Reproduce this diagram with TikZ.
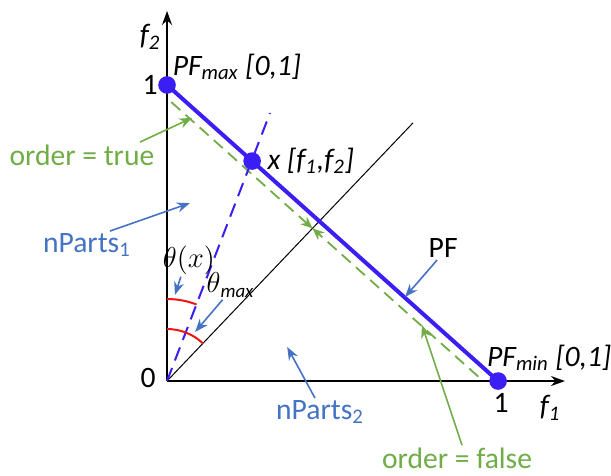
\documentclass[tikz,border=0pt]{standalone}
\usepackage{fontspec}
\setmainfont{Carlito}
\definecolor{pfblue}{RGB}{58, 30, 245}
\definecolor{labelblue}{RGB}{68, 114, 196}
\definecolor{ordergreen}{RGB}{112, 173, 71}
\definecolor{arcred}{RGB}{240, 20, 20}
\usetikzlibrary{arrows.meta, positioning, calc}

\begin{document}
\begin{tikzpicture}[x=165.5pt, y=148pt,
      font=\fontsize{14.8}{17}\selectfont,
      lbl/.style={inner sep=1pt},
      dot/.style={circle, fill=pfblue, inner sep=0pt, minimum size=8.8pt},
      axis/.style={-{Stealth[length=7pt, width=5pt]}, black, line width=1pt},
      bluearr/.style={-{Stealth[length=6.5pt, width=5pt]}, labelblue, line width=0.8pt},
      greenarr/.style={-{Stealth[length=6.5pt, width=5pt]}, ordergreen, line width=0.8pt},
      greendash/.style={ordergreen, line width=0.9pt, dash pattern=on 6pt off 3.5pt},
      thetafont/.style={font=\fontsize{13.5}{15}\selectfont}
    ]
      \useasboundingbox (-0.5045,-0.3176) rectangle (1.341,1.287);
      \coordinate (O) at (0,0);
      \coordinate (xend) at (1.202,0);
      \coordinate (yend) at (0,1.25);
      \coordinate (diagend) at (0.743,0.872);
      \coordinate (dashend) at (0.311,0.905);
      \coordinate (gstart) at (0.013,0.942);
      \coordinate (gend) at (0.94,0.015);
      \coordinate (gmid) at (0.4394,0.5156);

      \draw[axis] (O) -- (xend);
      \draw[axis] (O) -- (yend);
      \draw[black, line width=0.5pt] (O) -- (diagend);

      \draw[greendash, -{Stealth[length=6pt, width=5pt]}] (gstart) -- (gmid);
      \draw[greendash, -{Stealth[length=6pt, width=5pt]}] (gend) -- (gmid);

      \node[dot] (pfmax) at (0,1) {};
      \node[dot] (pfmin) at (1,0) {};
      \node[dot] (ptx) at (0.257,0.743) {};
      \draw[pfblue, line width=2pt] (pfmax.center) -- (pfmin.center);
      \draw[pfblue, line width=1pt, dash pattern=on 7pt off 4pt] (O) -- (dashend);

      \draw[arcred, line width=1pt] ([yshift=41pt]O) arc[start angle=90, end angle=68.9, radius=41pt];
      \draw[arcred, line width=1pt] ([yshift=26pt]O) arc[start angle=90, end angle=46.4, radius=26pt];

      \node[lbl] (lblf2) at (-0.051,1.162) {\textit{f\textsubscript{2}}};
      \node[lbl] (lblf1) at (1.157,-0.091) {\textit{f\textsubscript{1}}};
      \node[lbl] (lblzero) at (-0.057,0.01) {0};
      \node[lbl] (lbloney) at (-0.051,1.0) {1};
      \node[lbl] (lblonex) at (1.009,-0.074) {1};
      \node[lbl] (lblpfmax) at (0.211,1.061) {\textit{PF\textsubscript{max} [0,1]}};
      \node[lbl] (lblpfmin) at (1.154,0.078) {\textit{PF\textsubscript{min} [0,1]}};
      \node[lbl, right=2pt of ptx] (lblx) {\textit{x [f\textsubscript{1},f\textsubscript{2}]}};

      \node[lbl, text=ordergreen] (lbltrue) at (-0.257,0.764) {order = true};
      \node[lbl, text=ordergreen] (lblfalse) at (0.876,-0.26) {order = false};
      \node[lbl, text=labelblue] (lblnp1) at (-0.242,0.459) {nParts\textsubscript{1}};
      \node[lbl, text=labelblue] (lblnp2) at (0.462,-0.105) {nParts\textsubscript{2}};
      \node[lbl] (lblpf) at (0.834,0.449) {PF};
      \node[lbl, thetafont] (lbltheta) at (0.066,0.409) {$\theta(x)$};
      \node[lbl, thetafont] (lblthmax) at (0.192,0.324) {$\theta$\textsubscript{\textit{max}}};

      \coordinate (truetip) at (0.076,0.889);
      \coordinate (falsetip) at (0.770,0.189);
      \coordinate (np1tip) at (0.069,0.601);
      \coordinate (np2tip) at (0.363,0.115);
      \coordinate (pftip) at (0.719,0.284);
      \coordinate (thetatip) at (0.024,0.291);
      \coordinate (thmaxtip) at (0.085,0.166);

      \draw[greenarr] ([xshift=29pt]lbltrue.north) -- (truetip);
      \draw[greenarr] ([xshift=2.5pt]lblfalse.north) -- (falsetip);
      \draw[bluearr] ([xshift=11.5pt]lblnp1.north) -- (np1tip);
      \draw[bluearr] ([xshift=-2.5pt]lblnp2.north) -- (np2tip);
      \draw[bluearr] ([xshift=-3pt]lblpf.south) -- (pftip);
      \draw[bluearr] ([xshift=-4pt]lbltheta.south) -- (thetatip);
      \draw[bluearr] ([xshift=-4pt]lblthmax.south) -- (thmaxtip);
    \end{tikzpicture}
\end{document}
